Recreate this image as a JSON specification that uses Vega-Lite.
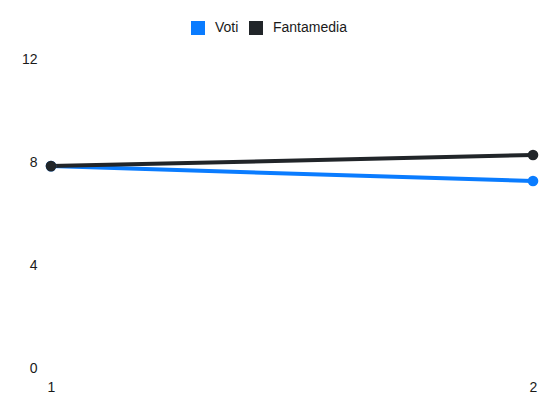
{
  "$schema": "https://vega.github.io/schema/vega-lite/v6.json",
  "autosize": {"type": "none"},
  "width": 482,
  "height": 309,
  "padding": {"left": 51, "top": 59, "right": 17, "bottom": 44},
  "background": "white",
  "config": {
    "view": {"stroke": null},
    "font": "Liberation Sans"
  },
  "data": {
    "values": [
      {"giornata": "1", "serie": "Voti", "valore": 7.84},
      {"giornata": "2", "serie": "Voti", "valore": 7.26},
      {"giornata": "1", "serie": "Fantamedia", "valore": 7.84},
      {"giornata": "2", "serie": "Fantamedia", "valore": 8.27}
    ]
  },
  "encoding": {
    "x": {
      "field": "giornata",
      "type": "ordinal",
      "scale": {"type": "point", "padding": 0},
      "axis": {
        "title": null,
        "labelAngle": 0,
        "domain": false,
        "ticks": false,
        "grid": false,
        "labelPadding": 12,
        "labelFontSize": 14,
        "labelColor": "#1a1a1a"
      }
    },
    "y": {
      "field": "valore",
      "type": "quantitative",
      "scale": {"domain": [0, 12], "nice": false},
      "axis": {
        "title": null,
        "values": [0, 4, 8, 12],
        "domain": false,
        "ticks": false,
        "grid": false,
        "labelPadding": 14,
        "labelFontSize": 14,
        "labelColor": "#1a1a1a"
      }
    },
    "color": {
      "field": "serie",
      "type": "nominal",
      "scale": {"domain": ["Voti", "Fantamedia"], "range": ["#0a7cff", "#212529"]},
      "legend": {
        "title": null,
        "orient": "none",
        "direction": "horizontal",
        "legendX": 140,
        "legendY": -38,
        "symbolType": "square",
        "symbolSize": 196,
        "symbolStrokeWidth": 0,
        "symbolOpacity": 1,
        "labelFontSize": 14,
        "labelColor": "#1a1a1a",
        "labelOffset": 10,
        "columnPadding": 10
      }
    },
    "order": {"field": "serie", "sort": "descending"}
  },
  "layer": [
    {"mark": {"type": "line", "strokeWidth": 4}},
    {"mark": {"type": "point", "filled": true, "size": 113, "opacity": 1}}
  ]
}
